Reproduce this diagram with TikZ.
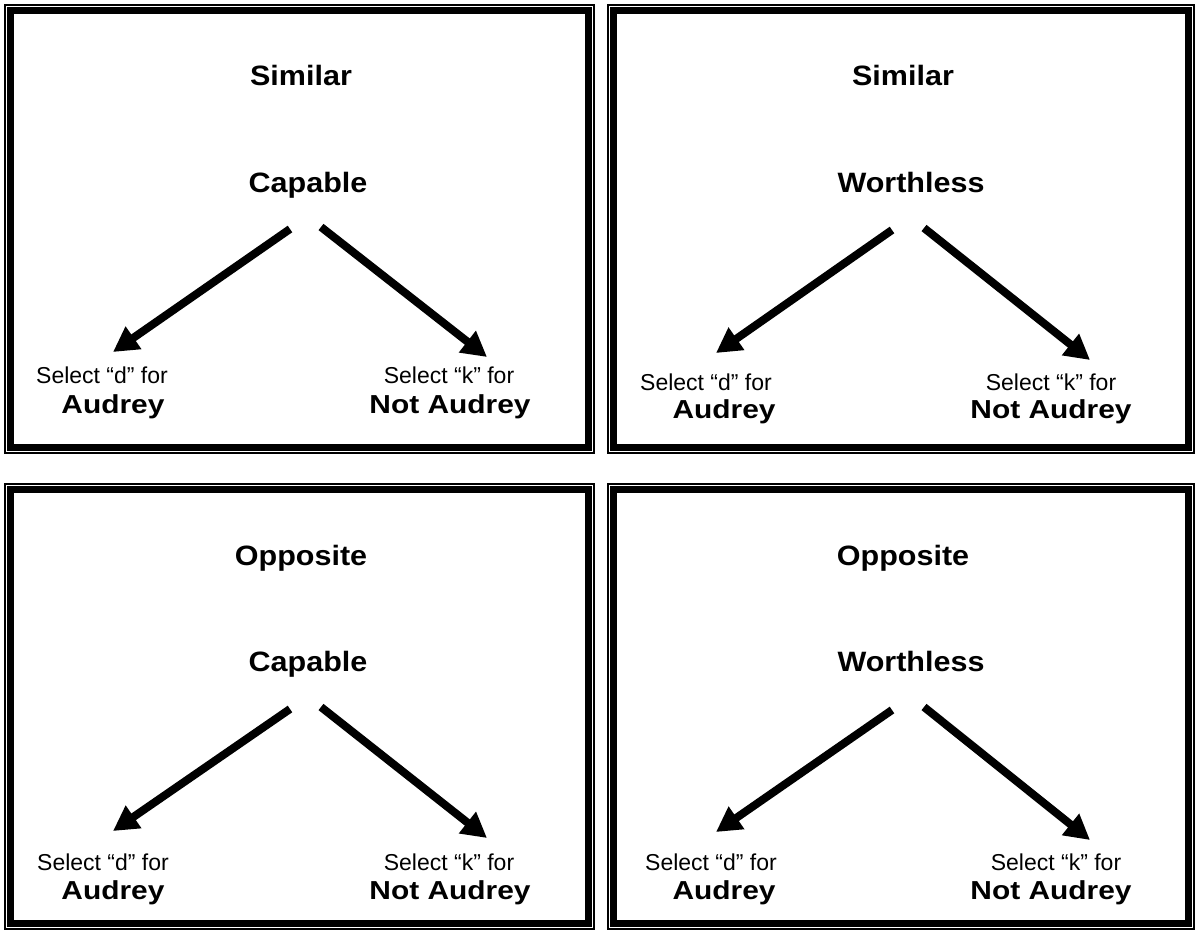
\documentclass[tikz,border=0pt]{standalone}
\usepackage{fontspec}
\usepackage{tikz}
\setmainfont{Liberation Sans}
\newfontfamily\headfont[FakeStretch=1.09]{Liberation Sans}
\newfontfamily\wordfont[FakeStretch=1.15]{Liberation Sans}
\usetikzlibrary{arrows.meta, positioning}

% double frame of one panel: outer thin line, inner thick line
\newcommand{\panelframe}[4]{%
  \draw[line width=2pt] ({#1+1.75},{#2+1.75}) rectangle ({#3-1.75},{#4-1.75});
  \draw[line width=7pt] ({#1+7.5},{#2+7.5}) rectangle ({#3-7.5},{#4-7.5});
}

\begin{document}
\begin{tikzpicture}[
    x=1pt, y=-1pt,
    heading/.style={font=\headfont\fontsize{28}{32}\selectfont\bfseries, anchor=base, inner sep=0pt},
    choice/.style={font=\fontsize{23}{26}\selectfont, anchor=base, inner sep=0pt},
    target/.style={font=\wordfont\fontsize{26}{30}\selectfont\bfseries, anchor=base, inner sep=0pt},
    arrow/.style={-{Triangle[length=25pt, width=26pt]}, line width=8pt}
]
    \useasboundingbox (0,0) rectangle (1197,932);

    % Frames
    \panelframe{3}{3}{596}{455}
    \panelframe{606}{3}{1196}{455}
    \panelframe{3}{482}{596}{931}
    \panelframe{606}{482}{1196}{931}

    % Panel 1: similar, capable
    \node[heading] (t1) at (301, 85) {Similar};
    \node[heading] (w1) at (308, 192) {Capable};
    \node[choice] (d1) at (102, 383) {Select “d” for};
    \node[target] (a1) at (113, 413) {Audrey};
    \node[choice] (k1) at (449, 383) {Select “k” for};
    \node[target] (n1) at (450, 413) {Not Audrey};
    \coordinate (l1s) at (290, 229); \coordinate (l1e) at (113, 352);
    \coordinate (r1s) at (321, 227); \coordinate (r1e) at (487, 357);
    \draw[arrow] (l1s) -- (l1e);
    \draw[arrow] (r1s) -- (r1e);

    % Panel 2: similar, worthless
    \node[heading] (t2) at (903, 85) {Similar};
    \node[heading] (w2) at (911, 192) {Worthless};
    \node[choice] (d2) at (706, 390) {Select “d” for};
    \node[target] (a2) at (724, 418) {Audrey};
    \node[choice] (k2) at (1051, 390) {Select “k” for};
    \node[target] (n2) at (1051, 418) {Not Audrey};
    \coordinate (l2s) at (892, 230); \coordinate (l2e) at (716, 353);
    \coordinate (r2s) at (924, 228); \coordinate (r2e) at (1090, 360);
    \draw[arrow] (l2s) -- (l2e);
    \draw[arrow] (r2s) -- (r2e);

    % Panel 3: opposite, capable
    \node[heading] (t3) at (301, 565) {Opposite};
    \node[heading] (w3) at (308, 671) {Capable};
    \node[choice] (d3) at (103, 870) {Select “d” for};
    \node[target] (a3) at (113, 899) {Audrey};
    \node[choice] (k3) at (449, 870) {Select “k” for};
    \node[target] (n3) at (450, 899) {Not Audrey};
    \coordinate (l3s) at (290, 709); \coordinate (l3e) at (113, 831);
    \coordinate (r3s) at (321, 707); \coordinate (r3e) at (487, 838);
    \draw[arrow] (l3s) -- (l3e);
    \draw[arrow] (r3s) -- (r3e);

    % Panel 4: opposite, worthless
    \node[heading] (t4) at (903, 565) {Opposite};
    \node[heading] (w4) at (911, 671) {Worthless};
    \node[choice] (d4) at (711, 870) {Select “d” for};
    \node[target] (a4) at (724, 899) {Audrey};
    \node[choice] (k4) at (1056, 870) {Select “k” for};
    \node[target] (n4) at (1051, 899) {Not Audrey};
    \coordinate (l4s) at (892, 710); \coordinate (l4e) at (716, 832);
    \coordinate (r4s) at (924, 707); \coordinate (r4e) at (1090, 840);
    \draw[arrow] (l4s) -- (l4e);
    \draw[arrow] (r4s) -- (r4e);
\end{tikzpicture}
\end{document}
